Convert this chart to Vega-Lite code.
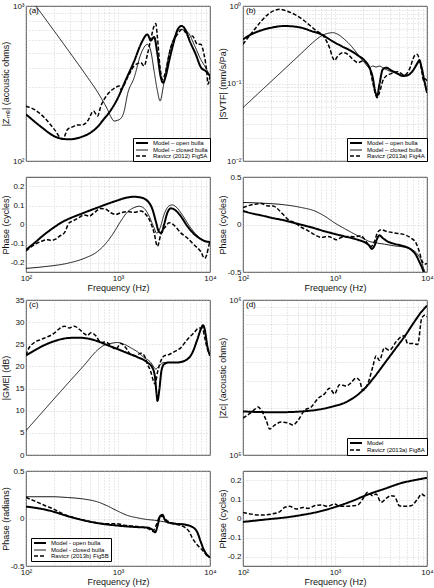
{
"$schema": "https://vega.github.io/schema/vega-lite/v6.json",
"padding": {"top": 1, "left": 0, "right": 0, "bottom": 0},
"config": {
  "font": "Liberation Sans",
  "view": {"stroke": "#1a1a1a", "strokeWidth": 0.8},
  "axis": {"grid": true, "gridDash": [1, 2], "gridColor": "#b5b5b5", "gridWidth": 0.6, "domain": false, "ticks": false, "labelFontSize": 8, "labelColor": "#111", "titleFontSize": 9, "titleFontWeight": "normal", "titleColor": "#111", "labelPadding": 2, "labelOverlap": false, "labelFlush": false, "labelBound": false},
  "axisY": {"minExtent": 15, "maxExtent": 15, "titlePadding": 1},
  "axisX": {"titlePadding": 1},
  "title": {"anchor": "start", "frame": "group", "orient": "top", "offset": -13, "dx": 3, "fontSize": 8, "fontWeight": "normal", "font": "Liberation Sans", "color": "#000"},
  "legend": {"symbolType": "M-3,0H3", "symbolSize": 16, "labelFontSize": 6, "labelFont": "Liberation Sans", "labelColor": "#000", "strokeColor": "#000", "fillColor": "#fff", "padding": 2, "rowPadding": 0, "labelOffset": 8, "symbolOffset": 4, "cornerRadius": 0, "labelLimit": 200}
},
"datasets": {
  "aM": [
    {"f":100,"v":200,"s":"o"},{"f":150,"v":164,"s":"o"},{"f":200,"v":145,"s":"o"},{"f":250,"v":139,"s":"o"},{"f":300,"v":138,"s":"o"},{"f":400,"v":143,"s":"o"},{"f":500,"v":152,"s":"o"},{"f":600,"v":166,"s":"o"},{"f":700,"v":186,"s":"o"},{"f":800,"v":205,"s":"o"},{"f":1000,"v":256,"s":"o"},{"f":1200,"v":328,"s":"o"},{"f":1500,"v":441,"s":"o"},{"f":1800,"v":579,"s":"o"},{"f":2090,"v":656,"s":"o"},{"f":2270,"v":600,"s":"o"},{"f":2470,"v":631,"s":"o"},{"f":2683,"v":488,"s":"o"},{"f":2900,"v":353,"s":"o"},{"f":3091,"v":320,"s":"o"},{"f":3304,"v":353,"s":"o"},{"f":3591,"v":441,"s":"o"},{"f":4069,"v":594,"s":"o"},{"f":4422,"v":700,"s":"o"},{"f":4900,"v":743,"s":"o"},{"f":5491,"v":690,"s":"o"},{"f":5918,"v":610,"s":"o"},{"f":7000,"v":488,"s":"o"},{"f":8000,"v":400,"s":"o"},{"f":9000,"v":380,"s":"o"},{"f":10000,"v":353,"s":"o"},
    {"f":100,"v":1220,"s":"c"},{"f":128,"v":1000,"s":"c"},{"f":200,"v":697,"s":"c"},{"f":283,"v":525,"s":"c"},{"f":430,"v":371,"s":"c"},{"f":651,"v":257,"s":"c"},{"f":769,"v":215,"s":"c"},{"f":836,"v":193,"s":"c"},{"f":909,"v":181,"s":"c"},{"f":988,"v":183,"s":"c"},{"f":1073,"v":188,"s":"c"},{"f":1167,"v":210,"s":"c"},{"f":1268,"v":269,"s":"c"},{"f":1498,"v":345,"s":"c"},{"f":1769,"v":488,"s":"c"},{"f":2090,"v":566,"s":"c"},{"f":2271,"v":513,"s":"c"},{"f":2469,"v":380,"s":"c"},{"f":2683,"v":283,"s":"c"},{"f":2868,"v":244,"s":"c"},{"f":3091,"v":297,"s":"c"},{"f":3444,"v":441,"s":"c"},{"f":4069,"v":625,"s":"c"},{"f":4805,"v":707,"s":"c"},{"f":5676,"v":682,"s":"c"},{"f":6705,"v":566,"s":"c"},{"f":7920,"v":453,"s":"c"},{"f":8974,"v":400,"s":"c"},{"f":10000,"v":353,"s":"c"},
    {"f":100,"v":226,"s":"r"},{"f":123,"v":215,"s":"r"},{"f":158,"v":191,"s":"r"},{"f":203,"v":160,"s":"r"},{"f":250,"v":138,"s":"r"},{"f":283,"v":160,"s":"r"},{"f":321,"v":166,"s":"r"},{"f":364,"v":171,"s":"r"},{"f":412,"v":171,"s":"r"},{"f":467,"v":181,"s":"r"},{"f":542,"v":210,"s":"r"},{"f":599,"v":195,"s":"r"},{"f":651,"v":226,"s":"r"},{"f":769,"v":269,"s":"r"},{"f":909,"v":294,"s":"r"},{"f":1030,"v":305,"s":"r"},{"f":1073,"v":290,"s":"r"},{"f":1268,"v":345,"s":"r"},{"f":1498,"v":410,"s":"r"},{"f":1769,"v":431,"s":"r"},{"f":1923,"v":410,"s":"r"},{"f":2090,"v":488,"s":"r"},{"f":2271,"v":610,"s":"r"},{"f":2469,"v":743,"s":"r"},{"f":2573,"v":770,"s":"r"},{"f":2683,"v":625,"s":"r"},{"f":2868,"v":400,"s":"r"},{"f":3041,"v":336,"s":"r"},{"f":3304,"v":380,"s":"r"},{"f":3743,"v":538,"s":"r"},{"f":4422,"v":656,"s":"r"},{"f":5010,"v":707,"s":"r"},{"f":5445,"v":673,"s":"r"},{"f":5918,"v":625,"s":"r"},{"f":6432,"v":640,"s":"r"},{"f":7290,"v":566,"s":"r"},{"f":7920,"v":566,"s":"r"},{"f":8610,"v":488,"s":"r"},{"f":9201,"v":380,"s":"r"},{"f":9513,"v":313,"s":"r"},{"f":10000,"v":353,"s":"r"}
  ],
  "aP": [
    {"f":100,"v":-0.133,"s":"o"},{"f":123,"v":-0.098,"s":"o"},{"f":158,"v":-0.053,"s":"o"},{"f":203,"v":-0.014,"s":"o"},{"f":250,"v":0.014,"s":"o"},{"f":283,"v":0.027,"s":"o"},{"f":412,"v":0.059,"s":"o"},{"f":599,"v":0.089,"s":"o"},{"f":909,"v":0.121,"s":"o"},{"f":1268,"v":0.142,"s":"o"},{"f":1498,"v":0.146,"s":"o"},{"f":1769,"v":0.142,"s":"o"},{"f":2090,"v":0.124,"s":"o"},{"f":2368,"v":0.08,"s":"o"},{"f":2573,"v":0.018,"s":"o"},{"f":2797,"v":-0.039,"s":"o"},{"f":2965,"v":-0.044,"s":"o"},{"f":3169,"v":0,"s":"o"},{"f":3444,"v":0.062,"s":"o"},{"f":3743,"v":0.085,"s":"o"},{"f":4069,"v":0.08,"s":"o"},{"f":4805,"v":0.044,"s":"o"},{"f":5676,"v":-0.009,"s":"o"},{"f":6705,"v":-0.05,"s":"o"},{"f":7920,"v":-0.076,"s":"o"},{"f":8974,"v":-0.089,"s":"o"},{"f":10000,"v":-0.092,"s":"o"},
    {"f":100,"v":-0.231,"s":"c"},{"f":158,"v":-0.222,"s":"c"},{"f":283,"v":-0.204,"s":"c"},{"f":430,"v":-0.178,"s":"c"},{"f":599,"v":-0.142,"s":"c"},{"f":769,"v":-0.089,"s":"c"},{"f":909,"v":-0.039,"s":"c"},{"f":1073,"v":0.018,"s":"c"},{"f":1268,"v":0.066,"s":"c"},{"f":1498,"v":0.089,"s":"c"},{"f":1697,"v":0.096,"s":"c"},{"f":1923,"v":0.085,"s":"c"},{"f":2179,"v":0.044,"s":"c"},{"f":2469,"v":-0.018,"s":"c"},{"f":2638,"v":-0.046,"s":"c"},{"f":2868,"v":-0.018,"s":"c"},{"f":3169,"v":0.053,"s":"c"},{"f":3591,"v":0.098,"s":"c"},{"f":3903,"v":0.103,"s":"c"},{"f":4241,"v":0.094,"s":"c"},{"f":5010,"v":0.05,"s":"c"},{"f":5918,"v":-0.005,"s":"c"},{"f":6990,"v":-0.05,"s":"c"},{"f":8257,"v":-0.08,"s":"c"},{"f":10000,"v":-0.094,"s":"c"},
    {"f":100,"v":-0.139,"s":"r"},{"f":123,"v":-0.107,"s":"r"},{"f":146,"v":-0.089,"s":"r"},{"f":172,"v":-0.08,"s":"r"},{"f":187,"v":-0.084,"s":"r"},{"f":212,"v":-0.076,"s":"r"},{"f":230,"v":-0.062,"s":"r"},{"f":261,"v":-0.044,"s":"r"},{"f":295,"v":0.009,"s":"r"},{"f":321,"v":0.018,"s":"r"},{"f":364,"v":0.032,"s":"r"},{"f":430,"v":0.05,"s":"r"},{"f":487,"v":0.044,"s":"r"},{"f":551,"v":0.062,"s":"r"},{"f":651,"v":0.084,"s":"r"},{"f":738,"v":0.08,"s":"r"},{"f":836,"v":0.062,"s":"r"},{"f":947,"v":0.053,"s":"r"},{"f":1073,"v":0.062,"s":"r"},{"f":1268,"v":0.068,"s":"r"},{"f":1498,"v":0.064,"s":"r"},{"f":1769,"v":0.071,"s":"r"},{"f":2005,"v":0.053,"s":"r"},{"f":2271,"v":0.009,"s":"r"},{"f":2469,"v":-0.044,"s":"r"},{"f":2683,"v":-0.115,"s":"r"},{"f":2916,"v":-0.053,"s":"r"},{"f":3304,"v":-0.009,"s":"r"},{"f":3591,"v":0.009,"s":"r"},{"f":4069,"v":-0.004,"s":"r"},{"f":4805,"v":-0.044,"s":"r"},{"f":5676,"v":-0.071,"s":"r"},{"f":6705,"v":-0.107,"s":"r"},{"f":7920,"v":-0.142,"s":"r"},{"f":8753,"v":-0.178,"s":"r"},{"f":9201,"v":-0.16,"s":"r"},{"f":9754,"v":-0.107,"s":"r"},{"f":10000,"v":-0.089,"s":"r"}
  ],
  "bM": [
    {"f":100,"v":0.371,"s":"o"},{"f":123,"v":0.431,"s":"o"},{"f":158,"v":0.485,"s":"o"},{"f":203,"v":0.525,"s":"o"},{"f":283,"v":0.552,"s":"o"},{"f":430,"v":0.525,"s":"o"},{"f":551,"v":0.476,"s":"o"},{"f":708,"v":0.431,"s":"o"},{"f":909,"v":0.36,"s":"o"},{"f":1167,"v":0.305,"s":"o"},{"f":1498,"v":0.263,"s":"o"},{"f":1769,"v":0.231,"s":"o"},{"f":2090,"v":0.199,"s":"o"},{"f":2368,"v":0.16,"s":"o"},{"f":2573,"v":0.119,"s":"o"},{"f":2728,"v":0.08,"s":"o"},{"f":2868,"v":0.069,"s":"o"},{"f":3040,"v":0.0975,"s":"o"},{"f":3304,"v":0.152,"s":"o"},{"f":3591,"v":0.16,"s":"o"},{"f":4069,"v":0.148,"s":"o"},{"f":4805,"v":0.134,"s":"o"},{"f":5445,"v":0.125,"s":"o"},{"f":6169,"v":0.128,"s":"o"},{"f":6990,"v":0.145,"s":"o"},{"f":7920,"v":0.186,"s":"o"},{"f":8257,"v":0.199,"s":"o"},{"f":8753,"v":0.16,"s":"o"},{"f":9357,"v":0.108,"s":"o"},{"f":10000,"v":0.076,"s":"o"},
    {"f":100,"v":0.0488,"s":"c"},{"f":187,"v":0.0975,"s":"c"},{"f":283,"v":0.154,"s":"c"},{"f":430,"v":0.245,"s":"c"},{"f":599,"v":0.353,"s":"c"},{"f":708,"v":0.41,"s":"c"},{"f":836,"v":0.444,"s":"c"},{"f":947,"v":0.453,"s":"c"},{"f":1073,"v":0.431,"s":"c"},{"f":1268,"v":0.371,"s":"c"},{"f":1498,"v":0.305,"s":"c"},{"f":1769,"v":0.238,"s":"c"},{"f":2090,"v":0.186,"s":"c"},{"f":2368,"v":0.16,"s":"c"},{"f":2573,"v":0.168,"s":"c"},{"f":2797,"v":0.163,"s":"c"},{"f":3040,"v":0.168,"s":"c"},{"f":3304,"v":0.16,"s":"c"},{"f":3743,"v":0.148,"s":"c"},{"f":4422,"v":0.138,"s":"c"},{"f":5223,"v":0.128,"s":"c"},{"f":6169,"v":0.128,"s":"c"},{"f":6990,"v":0.145,"s":"c"},{"f":7920,"v":0.18,"s":"c"},{"f":8257,"v":0.195,"s":"c"},{"f":8753,"v":0.16,"s":"c"},{"f":9357,"v":0.108,"s":"c"},{"f":10000,"v":0.076,"s":"c"},
    {"f":100,"v":0.32,"s":"r"},{"f":113,"v":0.39,"s":"r"},{"f":134,"v":0.5,"s":"r"},{"f":158,"v":0.64,"s":"r"},{"f":187,"v":0.78,"s":"r"},{"f":221,"v":0.879,"s":"r"},{"f":250,"v":0.906,"s":"r"},{"f":283,"v":0.879,"s":"r"},{"f":364,"v":0.78,"s":"r"},{"f":467,"v":0.64,"s":"r"},{"f":599,"v":0.5,"s":"r"},{"f":769,"v":0.39,"s":"r"},{"f":872,"v":0.29,"s":"r"},{"f":947,"v":0.215,"s":"r"},{"f":988,"v":0.199,"s":"r"},{"f":1073,"v":0.226,"s":"r"},{"f":1216,"v":0.25,"s":"r"},{"f":1378,"v":0.238,"s":"r"},{"f":1562,"v":0.205,"s":"r"},{"f":1769,"v":0.186,"s":"r"},{"f":2005,"v":0.195,"s":"r"},{"f":2179,"v":0.186,"s":"r"},{"f":2368,"v":0.16,"s":"r"},{"f":2573,"v":0.1025,"s":"r"},{"f":2728,"v":0.076,"s":"r"},{"f":2868,"v":0.0657,"s":"r"},{"f":3040,"v":0.076,"s":"r"},{"f":3304,"v":0.108,"s":"r"},{"f":3591,"v":0.125,"s":"r"},{"f":4069,"v":0.134,"s":"r"},{"f":4805,"v":0.142,"s":"r"},{"f":5676,"v":0.128,"s":"r"},{"f":6432,"v":0.152,"s":"r"},{"f":7288,"v":0.226,"s":"r"},{"f":7788,"v":0.238,"s":"r"},{"f":8257,"v":0.205,"s":"r"},{"f":8753,"v":0.145,"s":"r"},{"f":9201,"v":0.108,"s":"r"},{"f":9513,"v":0.115,"s":"r"},{"f":10000,"v":0.108,"s":"r"}
  ],
  "bP": [
    {"f":100,"v":0.143,"s":"o"},{"f":123,"v":0.118,"s":"o"},{"f":158,"v":0.096,"s":"o"},{"f":203,"v":0.071,"s":"o"},{"f":283,"v":0.043,"s":"o"},{"f":395,"v":0.007,"s":"o"},{"f":551,"v":-0.029,"s":"o"},{"f":769,"v":-0.071,"s":"o"},{"f":996,"v":-0.1,"s":"o"},{"f":1268,"v":-0.125,"s":"o"},{"f":1769,"v":-0.161,"s":"o"},{"f":2090,"v":-0.186,"s":"o"},{"f":2368,"v":-0.225,"s":"o"},{"f":2510,"v":-0.257,"s":"o"},{"f":2683,"v":-0.225,"s":"o"},{"f":2868,"v":-0.15,"s":"o"},{"f":3040,"v":-0.114,"s":"o"},{"f":3304,"v":-0.143,"s":"o"},{"f":3743,"v":-0.179,"s":"o"},{"f":4422,"v":-0.204,"s":"o"},{"f":5223,"v":-0.221,"s":"o"},{"f":6169,"v":-0.243,"s":"o"},{"f":6990,"v":-0.279,"s":"o"},{"f":7598,"v":-0.321,"s":"o"},{"f":8257,"v":-0.393,"s":"o"},{"f":8753,"v":-0.446,"s":"o"},{"f":9201,"v":-0.5,"s":"o"},{"f":9513,"v":-0.55,"s":"o"},
    {"f":100,"v":0.232,"s":"c"},{"f":158,"v":0.225,"s":"c"},{"f":283,"v":0.207,"s":"c"},{"f":430,"v":0.179,"s":"c"},{"f":599,"v":0.143,"s":"c"},{"f":769,"v":0.089,"s":"c"},{"f":988,"v":0.018,"s":"c"},{"f":1268,"v":-0.043,"s":"c"},{"f":1628,"v":-0.1,"s":"c"},{"f":2090,"v":-0.154,"s":"c"},{"f":2368,"v":-0.179,"s":"c"},{"f":2683,"v":-0.189,"s":"c"},{"f":2916,"v":-0.196,"s":"c"},{"f":3444,"v":-0.207,"s":"c"},{"f":4422,"v":-0.225,"s":"c"},{"f":5676,"v":-0.239,"s":"c"},{"f":6990,"v":-0.268,"s":"c"},{"f":7920,"v":-0.314,"s":"c"},{"f":8608,"v":-0.375,"s":"c"},{"f":9201,"v":-0.464,"s":"c"},{"f":9513,"v":-0.5,"s":"c"},
    {"f":100,"v":0.179,"s":"r"},{"f":113,"v":0.196,"s":"r"},{"f":134,"v":0.214,"s":"r"},{"f":158,"v":0.221,"s":"r"},{"f":187,"v":0.196,"s":"r"},{"f":212,"v":0.196,"s":"r"},{"f":240,"v":0.161,"s":"r"},{"f":272,"v":0.107,"s":"r"},{"f":308,"v":0.054,"s":"r"},{"f":364,"v":0.018,"s":"r"},{"f":430,"v":-0.029,"s":"r"},{"f":507,"v":-0.064,"s":"r"},{"f":599,"v":-0.107,"s":"r"},{"f":708,"v":-0.136,"s":"r"},{"f":836,"v":-0.125,"s":"r"},{"f":947,"v":-0.143,"s":"r"},{"f":1030,"v":-0.161,"s":"r"},{"f":1167,"v":-0.136,"s":"r"},{"f":1378,"v":-0.125,"s":"r"},{"f":1628,"v":-0.129,"s":"r"},{"f":1923,"v":-0.118,"s":"r"},{"f":2090,"v":-0.154,"s":"r"},{"f":2271,"v":-0.207,"s":"r"},{"f":2469,"v":-0.232,"s":"r"},{"f":2683,"v":-0.179,"s":"r"},{"f":2916,"v":-0.079,"s":"r"},{"f":3169,"v":-0.054,"s":"r"},{"f":3591,"v":-0.071,"s":"r"},{"f":4422,"v":-0.089,"s":"r"},{"f":5676,"v":-0.107,"s":"r"},{"f":6705,"v":-0.143,"s":"r"},{"f":7598,"v":-0.196,"s":"r"},{"f":8257,"v":-0.286,"s":"r"},{"f":8753,"v":-0.375,"s":"r"},{"f":9357,"v":-0.418,"s":"r"},{"f":10000,"v":-0.411,"s":"r"}
  ],
  "cM": [
    {"f":100,"v":22.5,"s":"o"},{"f":123,"v":23.6,"s":"o"},{"f":158,"v":24.8,"s":"o"},{"f":203,"v":25.7,"s":"o"},{"f":283,"v":26.4,"s":"o"},{"f":364,"v":26.5,"s":"o"},{"f":467,"v":26.3,"s":"o"},{"f":599,"v":25.7,"s":"o"},{"f":769,"v":24.8,"s":"o"},{"f":996,"v":23.9,"s":"o"},{"f":1268,"v":23.0,"s":"o"},{"f":1628,"v":22.1,"s":"o"},{"f":2090,"v":20.9,"s":"o"},{"f":2368,"v":19.7,"s":"o"},{"f":2510,"v":17.9,"s":"o"},{"f":2638,"v":13.4,"s":"o"},{"f":2683,"v":12.2,"s":"o"},{"f":2820,"v":14.9,"s":"o"},{"f":2965,"v":19.0,"s":"o"},{"f":3169,"v":20.5,"s":"o"},{"f":3591,"v":20.9,"s":"o"},{"f":4422,"v":20.9,"s":"o"},{"f":5445,"v":21.4,"s":"o"},{"f":6432,"v":23.1,"s":"o"},{"f":7288,"v":26.1,"s":"o"},{"f":8054,"v":28.7,"s":"o"},{"f":8397,"v":29.3,"s":"o"},{"f":8753,"v":28.4,"s":"o"},{"f":9357,"v":24.6,"s":"o"},{"f":10000,"v":22.4,"s":"o"},
    {"f":100,"v":5.5,"s":"c"},{"f":187,"v":11.9,"s":"c"},{"f":283,"v":16.1,"s":"c"},{"f":430,"v":20.3,"s":"c"},{"f":599,"v":23.7,"s":"c"},{"f":708,"v":24.8,"s":"c"},{"f":836,"v":25.2,"s":"c"},{"f":988,"v":25.4,"s":"c"},{"f":1167,"v":25.0,"s":"c"},{"f":1378,"v":24.2,"s":"c"},{"f":1628,"v":23.3,"s":"c"},{"f":1923,"v":22.0,"s":"c"},{"f":2271,"v":20.9,"s":"c"},{"f":2469,"v":19.8,"s":"c"},{"f":2573,"v":19.4,"s":"c"},{"f":2797,"v":20.1,"s":"c"},{"f":3169,"v":20.9,"s":"c"},{"f":4422,"v":20.9,"s":"c"},{"f":5445,"v":21.4,"s":"c"},{"f":6432,"v":23.1,"s":"c"},{"f":7288,"v":26.1,"s":"c"},{"f":8054,"v":28.7,"s":"c"},{"f":8397,"v":29.3,"s":"c"},{"f":8753,"v":28.4,"s":"c"},{"f":9357,"v":24.6,"s":"c"},{"f":10000,"v":22.4,"s":"c"},
    {"f":100,"v":22.5,"s":"r"},{"f":104,"v":23.5,"s":"r"},{"f":123,"v":25.4,"s":"r"},{"f":146,"v":26.1,"s":"r"},{"f":172,"v":26.7,"s":"r"},{"f":203,"v":27.5,"s":"r"},{"f":230,"v":28.5,"s":"r"},{"f":261,"v":29.1,"s":"r"},{"f":295,"v":28.7,"s":"r"},{"f":335,"v":29.1,"s":"r"},{"f":379,"v":28.4,"s":"r"},{"f":430,"v":27.4,"s":"r"},{"f":467,"v":27.0,"s":"r"},{"f":507,"v":27.6,"s":"r"},{"f":575,"v":26.9,"s":"r"},{"f":651,"v":25.4,"s":"r"},{"f":738,"v":25.5,"s":"r"},{"f":836,"v":24.6,"s":"r"},{"f":947,"v":23.9,"s":"r"},{"f":1073,"v":25.2,"s":"r"},{"f":1216,"v":24.2,"s":"r"},{"f":1378,"v":22.7,"s":"r"},{"f":1562,"v":22.4,"s":"r"},{"f":1769,"v":23.0,"s":"r"},{"f":1923,"v":22.5,"s":"r"},{"f":2090,"v":20.5,"s":"r"},{"f":2271,"v":18.8,"s":"r"},{"f":2428,"v":16.7,"s":"r"},{"f":2531,"v":16.0,"s":"r"},{"f":2683,"v":18.6,"s":"r"},{"f":2916,"v":21.2,"s":"r"},{"f":3169,"v":22.4,"s":"r"},{"f":3591,"v":22.7,"s":"r"},{"f":4069,"v":23.3,"s":"r"},{"f":4805,"v":24.2,"s":"r"},{"f":5676,"v":26.1,"s":"r"},{"f":6705,"v":27.6,"s":"r"},{"f":7598,"v":28.7,"s":"r"},{"f":8257,"v":28.7,"s":"r"},{"f":8753,"v":26.5,"s":"r"},{"f":9357,"v":24.0,"s":"r"},{"f":10000,"v":22.7,"s":"r"}
  ],
  "cP": [
    {"f":100,"v":0.125,"s":"o"},{"f":123,"v":0.114,"s":"o"},{"f":187,"v":0.079,"s":"o"},{"f":283,"v":0.025,"s":"o"},{"f":430,"v":-0.021,"s":"o"},{"f":651,"v":-0.054,"s":"o"},{"f":996,"v":-0.075,"s":"o"},{"f":1498,"v":-0.089,"s":"o"},{"f":2090,"v":-0.096,"s":"o"},{"f":2368,"v":-0.118,"s":"o"},{"f":2531,"v":-0.146,"s":"o"},{"f":2683,"v":-0.082,"s":"o"},{"f":2868,"v":0.025,"s":"o"},{"f":3040,"v":0.039,"s":"o"},{"f":3222,"v":-0.011,"s":"o"},{"f":3444,"v":-0.039,"s":"o"},{"f":4069,"v":-0.054,"s":"o"},{"f":5223,"v":-0.064,"s":"o"},{"f":6432,"v":-0.089,"s":"o"},{"f":7288,"v":-0.146,"s":"o"},{"f":7920,"v":-0.243,"s":"o"},{"f":8608,"v":-0.332,"s":"o"},{"f":9357,"v":-0.386,"s":"o"},{"f":10000,"v":-0.411,"s":"o"},
    {"f":100,"v":0.229,"s":"c"},{"f":187,"v":0.229,"s":"c"},{"f":283,"v":0.221,"s":"c"},{"f":430,"v":0.204,"s":"c"},{"f":599,"v":0.175,"s":"c"},{"f":769,"v":0.132,"s":"c"},{"f":988,"v":0.079,"s":"c"},{"f":1268,"v":0.032,"s":"c"},{"f":1628,"v":0.007,"s":"c"},{"f":2090,"v":-0.011,"s":"c"},{"f":2469,"v":-0.018,"s":"c"},{"f":2916,"v":-0.029,"s":"c"},{"f":3444,"v":-0.039,"s":"c"},{"f":4422,"v":-0.054,"s":"c"},{"f":5676,"v":-0.064,"s":"c"},{"f":6432,"v":-0.089,"s":"c"},{"f":7288,"v":-0.146,"s":"c"},{"f":7920,"v":-0.243,"s":"c"},{"f":8608,"v":-0.332,"s":"c"},{"f":9357,"v":-0.386,"s":"c"},{"f":10000,"v":-0.411,"s":"c"},
    {"f":100,"v":0.221,"s":"r"},{"f":123,"v":0.186,"s":"r"},{"f":158,"v":0.139,"s":"r"},{"f":203,"v":0.096,"s":"r"},{"f":261,"v":0.043,"s":"r"},{"f":335,"v":0.007,"s":"r"},{"f":430,"v":-0.018,"s":"r"},{"f":551,"v":-0.039,"s":"r"},{"f":708,"v":-0.054,"s":"r"},{"f":909,"v":-0.054,"s":"r"},{"f":1268,"v":-0.075,"s":"r"},{"f":1769,"v":-0.089,"s":"r"},{"f":2179,"v":-0.111,"s":"r"},{"f":2368,"v":-0.136,"s":"r"},{"f":2573,"v":-0.082,"s":"r"},{"f":2797,"v":0.007,"s":"r"},{"f":3040,"v":0.025,"s":"r"},{"f":3304,"v":-0.011,"s":"r"},{"f":3743,"v":-0.046,"s":"r"},{"f":4422,"v":-0.064,"s":"r"},{"f":5223,"v":-0.089,"s":"r"},{"f":5918,"v":-0.136,"s":"r"},{"f":6432,"v":-0.207,"s":"r"},{"f":7288,"v":-0.279,"s":"r"},{"f":8257,"v":-0.332,"s":"r"},{"f":8974,"v":-0.375,"s":"r"},{"f":10000,"v":-0.411,"s":"r"}
  ],
  "dM": [
    {"f":100,"v":191000,"s":"o"},{"f":187,"v":189000,"s":"o"},{"f":283,"v":189000,"s":"o"},{"f":430,"v":191000,"s":"o"},{"f":651,"v":196000,"s":"o"},{"f":988,"v":207000,"s":"o"},{"f":1268,"v":217000,"s":"o"},{"f":1628,"v":236000,"s":"o"},{"f":2090,"v":268000,"s":"o"},{"f":2683,"v":319000,"s":"o"},{"f":3444,"v":389000,"s":"o"},{"f":4422,"v":475000,"s":"o"},{"f":5676,"v":579000,"s":"o"},{"f":7288,"v":724000,"s":"o"},{"f":8608,"v":832000,"s":"o"},{"f":10000,"v":919000,"s":"o"},
    {"f":100,"v":173000,"s":"r"},{"f":118,"v":185000,"s":"r"},{"f":134,"v":197000,"s":"r"},{"f":146,"v":204000,"s":"r"},{"f":158,"v":194000,"s":"r"},{"f":179,"v":167000,"s":"r"},{"f":195,"v":147000,"s":"r"},{"f":221,"v":156000,"s":"r"},{"f":261,"v":163000,"s":"r"},{"f":308,"v":161000,"s":"r"},{"f":349,"v":156000,"s":"r"},{"f":395,"v":167000,"s":"r"},{"f":467,"v":194000,"s":"r"},{"f":551,"v":204000,"s":"r"},{"f":651,"v":231000,"s":"r"},{"f":769,"v":248000,"s":"r"},{"f":872,"v":270000,"s":"r"},{"f":988,"v":248000,"s":"r"},{"f":1119,"v":284000,"s":"r"},{"f":1322,"v":279000,"s":"r"},{"f":1498,"v":293000,"s":"r"},{"f":1697,"v":314000,"s":"r"},{"f":1845,"v":303000,"s":"r"},{"f":2005,"v":261000,"s":"r"},{"f":2271,"v":288000,"s":"r"},{"f":2573,"v":370000,"s":"r"},{"f":2797,"v":436000,"s":"r"},{"f":3040,"v":408000,"s":"r"},{"f":3444,"v":491000,"s":"r"},{"f":3903,"v":474000,"s":"r"},{"f":4610,"v":537000,"s":"r"},{"f":5223,"v":579000,"s":"r"},{"f":5676,"v":587000,"s":"r"},{"f":6169,"v":524000,"s":"r"},{"f":6990,"v":524000,"s":"r"},{"f":7920,"v":516000,"s":"r"},{"f":8753,"v":760000,"s":"r"},{"f":9513,"v":800000,"s":"r"},{"f":10000,"v":780000,"s":"r"}
  ],
  "dP": [
    {"f":100,"v":-0.018,"s":"o"},{"f":187,"v":-0.004,"s":"o"},{"f":283,"v":0.005,"s":"o"},{"f":430,"v":0.018,"s":"o"},{"f":651,"v":0.035,"s":"o"},{"f":996,"v":0.06,"s":"o"},{"f":1498,"v":0.09,"s":"o"},{"f":2271,"v":0.126,"s":"o"},{"f":3444,"v":0.156,"s":"o"},{"f":5223,"v":0.186,"s":"o"},{"f":7920,"v":0.205,"s":"o"},{"f":10000,"v":0.214,"s":"o"},
    {"f":100,"v":0.032,"s":"r"},{"f":123,"v":0.023,"s":"r"},{"f":158,"v":0.018,"s":"r"},{"f":203,"v":0.023,"s":"r"},{"f":250,"v":0.035,"s":"r"},{"f":283,"v":0.058,"s":"r"},{"f":321,"v":0.064,"s":"r"},{"f":379,"v":0.05,"s":"r"},{"f":448,"v":0.058,"s":"r"},{"f":507,"v":0.053,"s":"r"},{"f":599,"v":0.067,"s":"r"},{"f":708,"v":0.071,"s":"r"},{"f":836,"v":0.064,"s":"r"},{"f":988,"v":0.076,"s":"r"},{"f":1119,"v":0.064,"s":"r"},{"f":1322,"v":0.064,"s":"r"},{"f":1562,"v":0.067,"s":"r"},{"f":1769,"v":0.071,"s":"r"},{"f":2005,"v":0.103,"s":"r"},{"f":2271,"v":0.138,"s":"r"},{"f":2573,"v":0.12,"s":"r"},{"f":2797,"v":0.129,"s":"r"},{"f":3169,"v":0.085,"s":"r"},{"f":3591,"v":0.106,"s":"r"},{"f":4069,"v":0.12,"s":"r"},{"f":4422,"v":0.117,"s":"r"},{"f":5010,"v":0.067,"s":"r"},{"f":5445,"v":0.064,"s":"r"},{"f":6705,"v":0.067,"s":"r"},{"f":7920,"v":0.103,"s":"r"},{"f":8753,"v":0.129,"s":"r"},{"f":9357,"v":0.12,"s":"r"},{"f":10000,"v":0.124,"s":"r"}
  ]
},
"resolve": {"scale": {"color": "independent", "strokeDash": "independent", "strokeWidth": "independent"}, "legend": {"color": "independent", "strokeDash": "independent", "strokeWidth": "independent"}},
"vconcat": [
 {"resolve": {"scale": {"color": "independent", "strokeDash": "independent", "strokeWidth": "independent"}, "legend": {"color": "independent", "strokeDash": "independent", "strokeWidth": "independent"}},
  "vconcat": [
  {"resolve": {"scale": {"color": "independent", "strokeDash": "independent", "strokeWidth": "independent"}, "legend": {"color": "independent", "strokeDash": "independent", "strokeWidth": "independent"}},
   "hconcat": [
   {"width": 184, "height": 155, "data": {"name": "aM"}, "title": "(a)",
    "mark": {"type": "line", "clip": true, "interpolate": "monotone"},
    "encoding": {
       "x": {"field": "f", "type": "quantitative", "scale": {"type": "log", "domain": [100, 10000], "nice": false}, "axis": {"values": [100,200,300,400,500,600,700,800,900,1000,2000,3000,4000,5000,6000,7000,8000,9000,10000], "labels": false, "title": null}},
       "y": {"field": "v", "type": "quantitative", "scale": {"type": "log", "domain": [100, 1000], "nice": false}, "axis": {"values": [100,200,300,400,500,600,700,800,900,1000], "labelExpr": "datum.value==100?'10²':datum.value==1000?'10³':''", "title": "|Zₘₑ| (acoustic ohms)"}},
       "color": {"field": "s", "type": "nominal", "scale": {"domain": ["o","c","r"], "range": ["#000","#000","#000"]}, "legend": {"title": null, "orient": "bottom-right", "offset": 0, "symbolType": "M-3,0H3", "labelExpr": "datum.label=='o'?'Model – open bulla':datum.label=='c'?'Model – closed bulla':'Ravicz (2012) Fig5A'"}},
       "strokeDash": {"field": "s", "type": "nominal", "scale": {"domain": ["o","c","r"], "range": [[1,0],[1,0],[4,2]]}, "legend": {"title": null, "orient": "bottom-right", "offset": 0, "symbolType": "M-3,0H3", "labelExpr": "datum.label=='o'?'Model – open bulla':datum.label=='c'?'Model – closed bulla':'Ravicz (2012) Fig5A'"}},
       "strokeWidth": {"field": "s", "type": "nominal", "scale": {"type": "ordinal", "domain": ["o","c","r"], "range": [2,0.9,1.5]}, "legend": {"title": null, "orient": "bottom-right", "offset": 0, "symbolType": "M-3,0H3", "labelExpr": "datum.label=='o'?'Model – open bulla':datum.label=='c'?'Model – closed bulla':'Ravicz (2012) Fig5A'"}}
    }},
   {"width": 184, "height": 155, "data": {"name": "bM"}, "title": "(b)",
    "mark": {"type": "line", "clip": true, "interpolate": "monotone"},
    "encoding": {
       "x": {"field": "f", "type": "quantitative", "scale": {"type": "log", "domain": [100, 10000], "nice": false}, "axis": {"values": [100,200,300,400,500,600,700,800,900,1000,2000,3000,4000,5000,6000,7000,8000,9000,10000], "labels": false, "title": null}},
       "y": {"field": "v", "type": "quantitative", "scale": {"type": "log", "domain": [0.01, 1], "nice": false}, "axis": {"values": [0.01,0.02,0.03,0.04,0.05,0.06,0.07,0.08,0.09,0.1,0.2,0.3,0.4,0.5,0.6,0.7,0.8,0.9,1], "labelExpr": "datum.value==0.01?'10⁻²':datum.value==0.1?'10⁻¹':datum.value==1?'10⁰':''", "title": "|SVTF| (mm/s/Pa)"}},
       "color": {"field": "s", "type": "nominal", "scale": {"domain": ["o","c","r"], "range": ["#000","#000","#000"]}, "legend": {"title": null, "orient": "bottom-right", "offset": 0, "symbolType": "M-3,0H3", "labelExpr": "datum.label=='o'?'Model – open bulla':datum.label=='c'?'Model – closed bulla':'Ravicz (2013a) Fig4A'"}},
       "strokeDash": {"field": "s", "type": "nominal", "scale": {"domain": ["o","c","r"], "range": [[1,0],[1,0],[4,2]]}, "legend": {"title": null, "orient": "bottom-right", "offset": 0, "symbolType": "M-3,0H3", "labelExpr": "datum.label=='o'?'Model – open bulla':datum.label=='c'?'Model – closed bulla':'Ravicz (2013a) Fig4A'"}},
       "strokeWidth": {"field": "s", "type": "nominal", "scale": {"type": "ordinal", "domain": ["o","c","r"], "range": [2,0.9,1.5]}, "legend": {"title": null, "orient": "bottom-right", "offset": 0, "symbolType": "M-3,0H3", "labelExpr": "datum.label=='o'?'Model – open bulla':datum.label=='c'?'Model – closed bulla':'Ravicz (2013a) Fig4A'"}}
    }}
  ], "spacing": 33, "bounds": "flush"},
  {"resolve": {"scale": {"color": "independent", "strokeDash": "independent", "strokeWidth": "independent"}, "legend": {"color": "independent", "strokeDash": "independent", "strokeWidth": "independent"}},
   "hconcat": [
   {"width": 184, "height": 95, "data": {"name": "aP"},
    "mark": {"type": "line", "clip": true, "interpolate": "monotone"},
    "encoding": {
     "x": {"field": "f", "type": "quantitative", "scale": {"type": "log", "domain": [100, 10000], "nice": false}, "axis": {"values": [100,200,300,400,500,600,700,800,900,1000,2000,3000,4000,5000,6000,7000,8000,9000,10000], "labelExpr": "datum.value==100?'10²':datum.value==1000?'10³':datum.value==10000?'10⁴':''", "title": "Frequency (Hz)"}},
     "y": {"field": "v", "type": "quantitative", "scale": {"domain": [-0.25, 0.25], "nice": false}, "axis": {"values": [-0.2,-0.1,0,0.1,0.2], "labelExpr": "datum.value==0?'0':''+datum.value", "title": "Phase (cycles)"}},
     "color": {"field": "s", "type": "nominal", "scale": {"domain": ["o","c","r"], "range": ["#000","#000","#000"]}, "legend": null},
     "strokeDash": {"field": "s", "type": "nominal", "scale": {"domain": ["o","c","r"], "range": [[1,0],[1,0],[4,2]]}, "legend": null},
     "strokeWidth": {"field": "s", "type": "nominal", "scale": {"type": "ordinal", "domain": ["o","c","r"], "range": [2,0.9,1.5]}, "legend": null}
    }},
   {"width": 184, "height": 95, "data": {"name": "bP"},
    "mark": {"type": "line", "clip": true, "interpolate": "monotone"},
    "encoding": {
     "x": {"field": "f", "type": "quantitative", "scale": {"type": "log", "domain": [100, 10000], "nice": false}, "axis": {"values": [100,200,300,400,500,600,700,800,900,1000,2000,3000,4000,5000,6000,7000,8000,9000,10000], "labelExpr": "datum.value==100?'10²':datum.value==1000?'10³':datum.value==10000?'10⁴':''", "title": "Frequency (Hz)"}},
     "y": {"field": "v", "type": "quantitative", "scale": {"domain": [-0.5, 0.5], "nice": false}, "axis": {"values": [-0.5,0,0.5], "labelExpr": "datum.value==0?'0':''+datum.value", "title": "Phase (cycles)"}},
     "color": {"field": "s", "type": "nominal", "scale": {"domain": ["o","c","r"], "range": ["#000","#000","#000"]}, "legend": null},
     "strokeDash": {"field": "s", "type": "nominal", "scale": {"domain": ["o","c","r"], "range": [[1,0],[1,0],[4,2]]}, "legend": null},
     "strokeWidth": {"field": "s", "type": "nominal", "scale": {"type": "ordinal", "domain": ["o","c","r"], "range": [2,0.9,1.5]}, "legend": null}
    }}
  ], "spacing": 33, "bounds": "flush"}
 ], "spacing": 6},
 {"resolve": {"scale": {"color": "independent", "strokeDash": "independent", "strokeWidth": "independent"}, "legend": {"color": "independent", "strokeDash": "independent", "strokeWidth": "independent"}},
  "vconcat": [
  {"resolve": {"scale": {"color": "independent", "strokeDash": "independent", "strokeWidth": "independent"}, "legend": {"color": "independent", "strokeDash": "independent", "strokeWidth": "independent"}},
   "hconcat": [
   {"width": 184, "height": 155, "data": {"name": "cM"}, "title": "(c)",
    "mark": {"type": "line", "clip": true, "interpolate": "monotone"},
    "encoding": {
       "x": {"field": "f", "type": "quantitative", "scale": {"type": "log", "domain": [100, 10000], "nice": false}, "axis": {"values": [100,200,300,400,500,600,700,800,900,1000,2000,3000,4000,5000,6000,7000,8000,9000,10000], "labels": false, "title": null}},
       "y": {"field": "v", "type": "quantitative", "scale": {"domain": [0, 35], "nice": false}, "axis": {"values": [0,5,10,15,20,25,30,35], "title": "|GME| (dB)"}},
       "color": {"field": "s", "type": "nominal", "scale": {"domain": ["o","c","r"], "range": ["#000","#000","#000"]}, "legend": null},
       "strokeDash": {"field": "s", "type": "nominal", "scale": {"domain": ["o","c","r"], "range": [[1,0],[1,0],[4,2]]}, "legend": null},
       "strokeWidth": {"field": "s", "type": "nominal", "scale": {"type": "ordinal", "domain": ["o","c","r"], "range": [2,0.9,1.5]}, "legend": null}
    }},
   {"width": 184, "height": 155, "data": {"name": "dM"}, "title": "(d)",
    "mark": {"type": "line", "clip": true, "interpolate": "monotone"},
    "encoding": {
       "x": {"field": "f", "type": "quantitative", "scale": {"type": "log", "domain": [100, 10000], "nice": false}, "axis": {"values": [100,200,300,400,500,600,700,800,900,1000,2000,3000,4000,5000,6000,7000,8000,9000,10000], "labels": false, "title": null}},
       "y": {"field": "v", "type": "quantitative", "scale": {"type": "log", "domain": [100000, 1000000], "nice": false}, "axis": {"values": [100000,200000,300000,400000,500000,600000,700000,800000,900000,1000000], "labelExpr": "datum.value==100000?'10⁵':datum.value==1000000?'10⁶':''", "title": "|Zc| (acoustic ohms)"}},
       "color": {"field": "s", "type": "nominal", "scale": {"domain": ["o","r"], "range": ["#000","#000"]}, "legend": {"title": null, "orient": "bottom-right", "offset": 0, "symbolType": "M-3,0H3", "labelExpr": "datum.label=='o'?'Model':'Ravicz (2013a) Fig8A'"}},
       "strokeDash": {"field": "s", "type": "nominal", "scale": {"domain": ["o","r"], "range": [[1,0],[4,2]]}, "legend": {"title": null, "orient": "bottom-right", "offset": 0, "symbolType": "M-3,0H3", "labelExpr": "datum.label=='o'?'Model':'Ravicz (2013a) Fig8A'"}},
       "strokeWidth": {"field": "s", "type": "nominal", "scale": {"type": "ordinal", "domain": ["o","r"], "range": [2,1.5]}, "legend": {"title": null, "orient": "bottom-right", "offset": 0, "symbolType": "M-3,0H3", "labelExpr": "datum.label=='o'?'Model':'Ravicz (2013a) Fig8A'"}}
    }}
  ], "spacing": 33, "bounds": "flush"},
  {"resolve": {"scale": {"color": "independent", "strokeDash": "independent", "strokeWidth": "independent"}, "legend": {"color": "independent", "strokeDash": "independent", "strokeWidth": "independent"}},
   "hconcat": [
   {"width": 184, "height": 95, "data": {"name": "cP"},
    "mark": {"type": "line", "clip": true, "interpolate": "monotone"},
    "encoding": {
     "x": {"field": "f", "type": "quantitative", "scale": {"type": "log", "domain": [100, 10000], "nice": false}, "axis": {"values": [100,200,300,400,500,600,700,800,900,1000,2000,3000,4000,5000,6000,7000,8000,9000,10000], "labelExpr": "datum.value==100?'10²':datum.value==1000?'10³':datum.value==10000?'10⁴':''", "title": "Frequency (Hz)"}},
     "y": {"field": "v", "type": "quantitative", "scale": {"domain": [-0.5, 0.5], "nice": false}, "axis": {"values": [-0.5,0,0.5], "labelExpr": "datum.value==0?'0':''+datum.value", "title": "Phase (radians)"}},
     "color": {"field": "s", "type": "nominal", "scale": {"domain": ["o","c","r"], "range": ["#000","#000","#000"]}, "legend": {"title": null, "orient": "bottom-left", "offset": 5, "symbolType": "M-3,0H3", "labelExpr": "datum.label=='o'?'Model - open bulla':datum.label=='c'?'Model - closed bulla':'Ravicz (2013b) Fig5B'"}},
     "strokeDash": {"field": "s", "type": "nominal", "scale": {"domain": ["o","c","r"], "range": [[1,0],[1,0],[4,2]]}, "legend": {"title": null, "orient": "bottom-left", "offset": 5, "symbolType": "M-3,0H3", "labelExpr": "datum.label=='o'?'Model - open bulla':datum.label=='c'?'Model - closed bulla':'Ravicz (2013b) Fig5B'"}},
     "strokeWidth": {"field": "s", "type": "nominal", "scale": {"type": "ordinal", "domain": ["o","c","r"], "range": [2,0.9,1.5]}, "legend": {"title": null, "orient": "bottom-left", "offset": 5, "symbolType": "M-3,0H3", "labelExpr": "datum.label=='o'?'Model - open bulla':datum.label=='c'?'Model - closed bulla':'Ravicz (2013b) Fig5B'"}}
    }},
   {"width": 184, "height": 95, "data": {"name": "dP"},
    "mark": {"type": "line", "clip": true, "interpolate": "monotone"},
    "encoding": {
     "x": {"field": "f", "type": "quantitative", "scale": {"type": "log", "domain": [100, 10000], "nice": false}, "axis": {"values": [100,200,300,400,500,600,700,800,900,1000,2000,3000,4000,5000,6000,7000,8000,9000,10000], "labelExpr": "datum.value==100?'10²':datum.value==1000?'10³':datum.value==10000?'10⁴':''", "title": "Frequency (Hz)"}},
     "y": {"field": "v", "type": "quantitative", "scale": {"domain": [-0.25, 0.25], "nice": false}, "axis": {"values": [-0.2,-0.1,0,0.1,0.2], "labelExpr": "datum.value==0?'0':''+datum.value", "title": "Phase (cycles)"}},
     "color": {"field": "s", "type": "nominal", "scale": {"domain": ["o","r"], "range": ["#000","#000"]}, "legend": null},
     "strokeDash": {"field": "s", "type": "nominal", "scale": {"domain": ["o","r"], "range": [[1,0],[4,2]]}, "legend": null},
     "strokeWidth": {"field": "s", "type": "nominal", "scale": {"type": "ordinal", "domain": ["o","r"], "range": [2,1.5]}, "legend": null}
    }}
  ], "spacing": 33, "bounds": "flush"}
 ], "spacing": 6}
],
"spacing": 2
}
